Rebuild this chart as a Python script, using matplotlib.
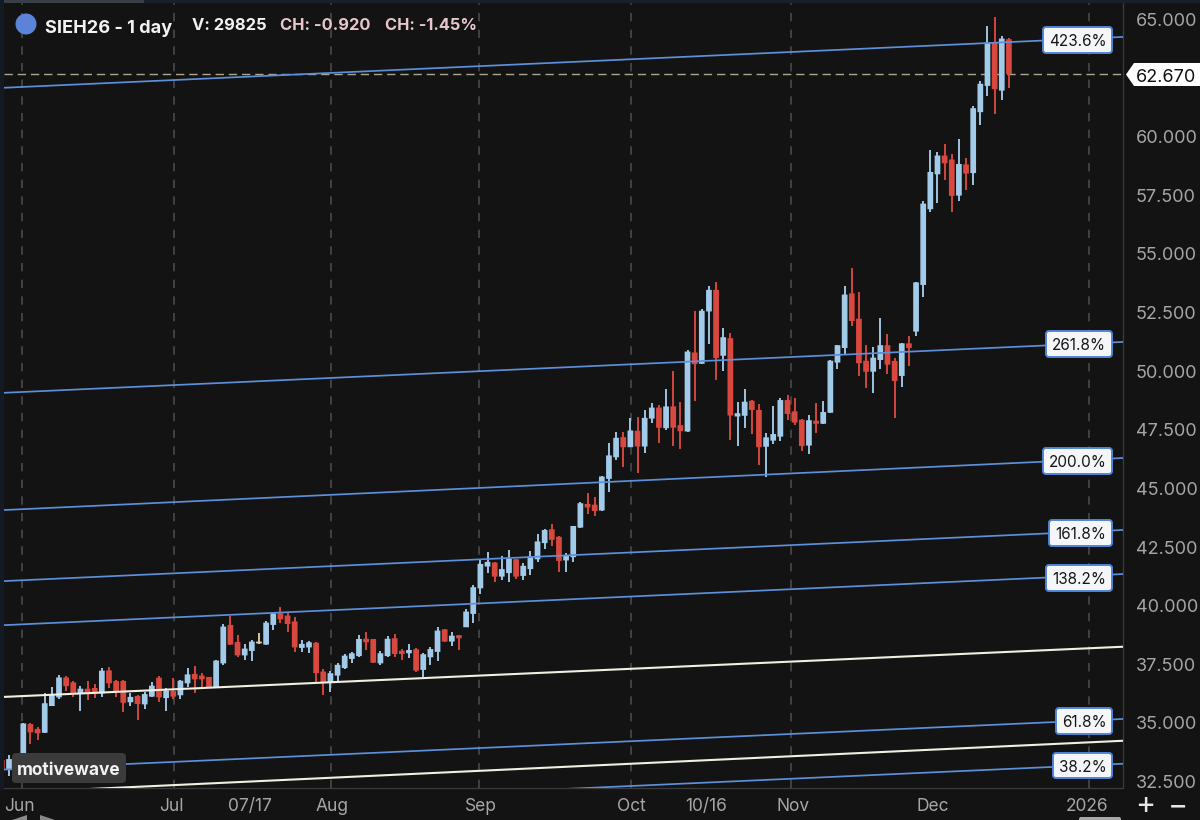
import matplotlib
matplotlib.use("Agg")
import matplotlib.pyplot as plt
from matplotlib.patches import FancyBboxPatch, Polygon, Circle, Rectangle
from matplotlib.transforms import Affine2D

# ---------- data ----------
direction = ("d uuu dd uuu dd u dd u ddd u d uu d u d uu ddd uu dd uu n uu ddd uu dd uuuuu dd uu dd u d uuu d u d "
             "uuuu d uu d uuuu dd uuu dd uuu d u d uu d u dd u d uu d u d uu dd uuu ddd u d uuuu ddd uu dd u d "
             "uuuu dd u d uuu d u d").replace(" ", "")
highs = [33.50, 33.62, 33.55, 34.97, 34.97, 34.83, 36.25, 36.51, 37.03, 36.98, 36.79, 36.56, 36.76, 36.65, 37.32, 37.39,
         36.82, 36.82, 36.28, 36.18, 36.29, 36.75, 36.99, 36.46, 36.89, 36.82, 37.32, 37.42, 37.11, 36.96, 37.67, 39.21,
         39.55, 38.73, 38.36, 38.53, 38.81, 39.35, 39.69, 39.92, 39.66, 39.49, 38.53, 38.50, 38.43, 37.28, 37.22, 37.53,
         37.93, 38.03, 38.74, 38.88, 38.57, 38.07, 38.71, 38.78, 38.13, 38.34, 38.20, 37.96, 38.21, 39.10, 39.00, 38.85,
         38.74, 39.84, 40.86, 41.94, 42.30, 41.87, 42.09, 42.37, 42.00, 41.80, 42.34, 43.04, 43.25, 43.47, 42.97, 42.23,
         43.41, 44.42, 44.79, 44.62, 45.53, 46.95, 47.40, 47.38, 47.99, 48.03, 48.34, 48.63, 48.56, 49.23, 49.98, 48.66,
         50.90, 52.54, 52.64, 53.63, 53.78, 51.83, 51.64, 48.66, 49.24, 48.77, 48.58, 47.37, 48.51, 48.84, 48.98, 48.84,
         47.95, 48.11, 48.62, 48.74, 50.47, 51.11, 53.63, 54.40, 53.37, 51.11, 51.01, 52.25, 51.57, 50.54, 51.18, 51.51,
         53.80, 57.27, 59.43, 59.32, 59.69, 59.25, 59.91, 59.09, 61.31, 62.39, 64.73, 65.09, 64.27, 64.19]
body_top = [33.41, 33.45, 33.45, 34.97, 34.94, 34.73, 35.83, 36.18, 36.93, 36.93, 36.72, 36.45, 36.45, 36.48, 37.22, 37.23,
            36.78, 36.78, 36.10, 36.14, 36.22, 36.58, 36.92, 36.37, 36.35, 36.79, 37.06, 37.08, 37.01, 36.95, 37.65, 39.10,
            39.17, 38.44, 38.16, 38.46, 38.38, 39.27, 39.66, 39.66, 39.57, 39.32, 38.36, 38.43, 38.41, 37.18, 37.11, 37.47,
            37.86, 37.96, 38.57, 38.58, 38.57, 37.96, 38.58, 38.60, 38.07, 38.10, 38.13, 37.92, 38.14, 38.93, 38.98, 38.71,
            38.73, 39.74, 40.78, 41.77, 41.86, 41.83, 41.55, 41.99, 41.97, 41.69, 42.09, 42.73, 43.22, 43.25, 42.93, 42.12,
            43.39, 44.36, 44.33, 44.30, 45.50, 46.40, 47.15, 47.18, 47.46, 47.45, 48.00, 48.44, 48.44, 48.49, 48.49, 47.69,
            50.83, 50.79, 52.57, 53.46, 53.46, 51.44, 51.40, 48.20, 48.69, 48.73, 48.34, 47.17, 47.31, 48.76, 48.76, 48.28,
            47.92, 47.90, 47.88, 48.25, 50.44, 51.10, 53.26, 53.31, 52.23, 50.44, 50.57, 51.10, 51.10, 50.43, 51.18, 51.18,
            53.78, 57.14, 58.49, 59.19, 59.19, 59.02, 58.83, 58.81, 61.21, 62.25, 64.01, 64.01, 64.18, 64.15]
body_bot = [32.99, 32.98, 32.98, 33.41, 34.59, 34.55, 34.57, 35.71, 36.08, 36.56, 36.25, 36.25, 36.22, 36.22, 36.25, 36.68,
            36.32, 35.85, 35.87, 35.80, 35.78, 36.11, 36.08, 36.05, 36.11, 36.17, 36.68, 36.85, 36.85, 36.51, 36.51, 37.53,
            38.33, 37.87, 37.87, 38.06, 38.38, 38.33, 39.17, 39.41, 39.21, 38.21, 38.19, 38.21, 37.11, 36.71, 36.71, 37.01,
            37.33, 37.72, 37.84, 38.43, 37.56, 37.53, 37.84, 37.93, 37.93, 37.96, 37.22, 37.25, 37.79, 38.02, 38.46, 38.46,
            38.60, 39.07, 39.64, 40.73, 41.66, 41.23, 41.23, 41.38, 41.23, 41.26, 41.55, 41.97, 42.66, 42.80, 41.90, 41.92,
            42.06, 43.32, 44.18, 44.03, 44.05, 45.40, 46.32, 46.75, 46.75, 46.78, 46.78, 47.97, 47.58, 47.56, 47.58, 47.43,
            47.42, 50.29, 50.31, 52.54, 50.55, 50.65, 48.10, 48.06, 48.09, 48.34, 46.75, 46.77, 47.03, 47.20, 48.17, 47.80,
            46.80, 46.82, 47.75, 47.75, 48.22, 50.36, 50.98, 52.13, 50.33, 49.97, 49.97, 50.47, 50.27, 49.57, 49.79, 50.98,
            51.68, 53.67, 56.90, 58.39, 58.86, 57.47, 57.48, 58.42, 58.44, 61.04, 62.16, 62.02, 61.96, 62.67]
lows = [32.90, 32.73, 32.90, 33.41, 34.09, 34.26, 34.57, 35.71, 36.00, 36.37, 36.08, 35.51, 35.97, 36.07, 36.11, 36.48,
        36.11, 35.46, 35.71, 35.13, 35.57, 36.08, 35.90, 35.51, 36.00, 36.00, 36.51, 36.25, 36.46, 36.46, 36.51, 37.45,
        38.30, 37.82, 37.67, 37.62, 38.36, 38.33, 38.95, 39.27, 38.87, 38.03, 38.02, 37.96, 36.74, 36.20, 36.32, 36.75,
        37.28, 37.53, 37.82, 38.10, 37.53, 37.45, 37.82, 37.79, 37.67, 37.76, 37.16, 36.93, 37.46, 37.62, 38.46, 38.27,
        38.10, 39.07, 39.27, 40.49, 41.40, 41.02, 41.09, 41.02, 41.13, 41.09, 41.28, 41.84, 42.41, 42.54, 41.42, 41.43,
        41.87, 43.32, 43.89, 43.82, 44.05, 44.85, 46.21, 45.90, 46.75, 45.67, 46.50, 47.80, 46.95, 47.49, 46.82, 46.67,
        47.38, 48.70, 50.31, 51.16, 49.60, 50.02, 47.06, 46.78, 47.59, 47.32, 45.99, 45.46, 46.89, 47.03, 47.91, 47.68,
        46.59, 46.46, 47.34, 47.73, 48.22, 50.09, 50.68, 51.92, 49.79, 49.26, 49.05, 50.07, 49.87, 47.98, 49.30, 50.23,
        51.51, 53.17, 56.80, 57.18, 58.15, 56.79, 57.27, 57.70, 57.94, 60.50, 61.73, 60.97, 61.56, 62.06]

last_price = 62.67
fib_labels = ["423.6%", "261.8%", "200.0%", "161.8%", "138.2%", "61.8%", "38.2%"]
fib_left = [62.08, 49.07, 44.07, 41.04, 39.16, 33.00, 31.09]
fib_right = [64.25, 51.24, 46.29, 43.22, 41.34, 35.16, 33.25]
white_left = [36.10, 32.00]
white_right = [38.24, 34.23]
price_ticks = [32.5, 35, 37.5, 40, 42.5, 45, 47.5, 50, 52.5, 55, 57.5, 60, 65]
grid_days = [2.8, 24.1, 46.1, 66.8, 88.1, 110.5, 152.2]
day_ticks = [2.4, 23.8, 34.7, 46.2, 67.0, 88.2, 98.6, 110.8, 130.4, 151.9]
day_labels = ["Jun", "Jul", "07/17", "Aug", "Sep", "Oct", "10/16", "Nov", "Dec", "2026"]

assert len(direction) == len(highs) == len(body_top) == len(body_bot) == len(lows), (
    len(direction), len(highs), len(body_top), len(body_bot), len(lows))

# ---------- style ----------
BG = "#131313"
UP = "#a2cbea"
DOWN = "#d9483f"
DOJI = "#d8cfa8"
FIB = "#5c8fdc"
WHITE = "#f1eee2"
AXIS = "#a6a6a6"
plt.rcParams["font.family"] = ["Inter", "DejaVu Sans"]

W, H = 1200, 820
fig = plt.figure(figsize=((W + 0.2) / 100, (H + 0.2) / 100), dpi=100, facecolor=BG)
L, R, T, B = 4, 1123, 3, 788
ax = fig.add_axes([L / W, 1 - B / H, (R - L) / W, (B - T) / H], facecolor=BG)
ax.set_xlim(0.30, 157.0)
ax.set_ylim(32.215, 65.704)

px = Affine2D().scale(1, -1).translate(0, H)  # pixel layout, y measured from the top

# ---------- chart ----------
ax.vlines(grid_days, 32.215, 65.704, color="#4a4a4a", lw=1.2, linestyles=(0, (5, 5)), zorder=1)
ax.hlines(last_price, 0.30, 157.0, color="#aaa68c", lw=1.0, linestyles=(0, (6, 3.5)), zorder=2)

pal = {"u": UP, "d": DOWN, "n": DOJI}
for k, d in enumerate(direction):
    c = pal[d]
    ax.vlines(k, lows[k], highs[k], color=c, lw=1.35, zorder=3)
    hgt = max(body_top[k] - body_bot[k], 0.08)
    bars = ax.bar(k, hgt, bottom=body_bot[k], width=0.8, color=c, linewidth=0, zorder=3.1)
    bars[0].set_snap(False)

for a, b in zip(fib_left, fib_right):
    ax.plot([0.30, 157.0], [a, b], color=FIB, lw=1.25, zorder=4, solid_capstyle="butt")
for a, b in zip(white_left, white_right):
    ax.plot([0.30, 157.0], [a, b], color=WHITE, lw=1.5, zorder=4, solid_capstyle="butt")

# ---------- axes ----------
for s in ("left", "top"):
    ax.spines[s].set_visible(False)
for s in ("right", "bottom"):
    ax.spines[s].set_color("#3b3b3b")
    ax.spines[s].set_linewidth(0.9)
ax.yaxis.tick_right()
ax.set_yticks(price_ticks, [f"{v:.3f}" for v in price_ticks])
ax.set_xticks(day_ticks, day_labels)
ax.tick_params(axis="y", length=0, pad=9, labelsize=13, labelcolor=AXIS)
ax.tick_params(axis="x", length=0, pad=7, labelsize=12.5, labelcolor=AXIS)

# ---------- overlays in pixel layout ----------
fig.add_artist(Rectangle((0, 0), 1200, 3, transform=px, fc="#1a2029", ec="none"))
fig.add_artist(Rectangle((0, 0), 144, 3, transform=px, fc="#3a3f47", ec="none"))
fig.add_artist(Rectangle((0, 0), 4, 790, transform=px, fc="#141a24", ec="none"))

fib_boxes = [(1043, 27, 53), (1046, 331, 357), (1043, 448, 474), (1049, 520, 546),
             (1046, 565, 591), (1056, 708, 734), (1053, 753, 778)]
for lab, (x0, y0, y1) in zip(fib_labels, fib_boxes):
    fig.add_artist(FancyBboxPatch((x0 + 2, y0 + 2), 1112 - x0 - 4, y1 - y0 - 4,
                                  boxstyle="round,pad=2,rounding_size=3", transform=px,
                                  fc="#f5f6f8", ec="#4f86d8", lw=1.4, zorder=6))
    fig.text((x0 + 1112) / 2 / W, 1 - (y0 + y1) / 2 / H, lab, ha="center", va="center_baseline",
             color="#161616", fontsize=11, zorder=7)

fig.add_artist(Polygon([(1126, 74.5), (1134, 63), (1200, 63), (1200, 86), (1134, 86)],
                       closed=True, transform=px, fc="white", ec="none", zorder=6))
fig.text(1165.5 / W, 1 - 75 / H, f"{last_price:.3f}", ha="center", va="center_baseline",
         color="#111111", fontsize=13, zorder=7)

fig.add_artist(Circle((26, 24), 10.5, transform=px, fc="#5b84d9", ec="none", zorder=6))
for x, s, col, size, yy in [(45, "SIEH26 - 1 day", "#f2f2f2", 13.1, 26), (192, "V: 29825", "#f2f2f2", 11.9, 24),
                            (280, "CH: -0.920", "#e8c6cd", 11.9, 24), (385, "CH: -1.45%", "#e8c6cd", 11.8, 24)]:
    fig.text(x / W, 1 - yy / H, s, ha="left", va="center_baseline",
             color=col, fontsize=size, fontweight="bold", zorder=7)

fig.add_artist(FancyBboxPatch((15, 756), 108, 24, boxstyle="round,pad=3,rounding_size=4", transform=px,
                              fc="#3b3b3b", ec="none", zorder=6))
fig.text(68.5 / W, 1 - 768 / H, "motivewave", ha="center", va="center_baseline",
         color="#f2f2f2", fontsize=12.5, fontweight="bold", zorder=7)

fig.text(1145 / W, 1 - 806 / H, "+", ha="center", va="center", color="#e6e6e6", fontsize=22, zorder=7)
fig.text(1178 / W, 1 - 806 / H, "\u2212", ha="center", va="center", color="#e6e6e6", fontsize=22, zorder=7)

fig.add_artist(FancyBboxPatch((1080, 818), 40, 6, boxstyle="round,pad=1,rounding_size=2", transform=px,
                              fc="#a8a8a8", ec="none", zorder=6))
fig.add_artist(Polygon([(12, 820), (27, 815), (27, 820)], closed=True, transform=px, fc="#8a8a8a", ec="none"))
fig.add_artist(Polygon([(40, 815), (55, 820), (40, 820)], closed=True, transform=px, fc="#8a8a8a", ec="none"))

fig.savefig("out.png", dpi=100, facecolor=BG)
